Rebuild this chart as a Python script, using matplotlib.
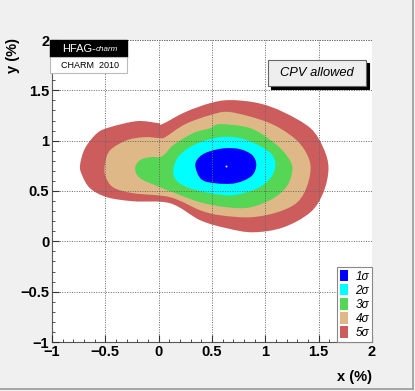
import matplotlib
matplotlib.use("Agg")
import matplotlib.pyplot as plt
import numpy as np
from matplotlib.path import Path
from matplotlib.patches import PathPatch, Patch, Rectangle
from matplotlib.ticker import MultipleLocator, FixedLocator

# contour outlines (x %, y %), outermost first
sigma5_x = [-0.737, -0.690, -0.577, -0.455, -0.202, -0.005, 0.033, 0.249, 0.484, 0.671, 0.934, 1.169, 1.423, 1.545,
            1.592, 1.545, 1.423, 1.169, 0.887, 0.643, 0.390, 0.108, -0.239, -0.484, -0.643, -0.718]
sigma5_y = [0.756, 0.925, 1.075, 1.134, 1.194, 1.174, 1.164, 1.284, 1.373, 1.403, 1.373, 1.284, 1.124, 0.925,
            0.726, 0.488, 0.289, 0.139, 0.090, 0.129, 0.209, 0.378, 0.398, 0.438, 0.527, 0.657]
sigma4_x = [-0.502, -0.455, -0.296, -0.127, 0.014, 0.061, 0.249, 0.484, 0.671, 1.019, 1.235, 1.357, 1.423, 1.394,
            1.300, 1.113, 0.859, 0.577, 0.390, 0.108, -0.239, -0.427, -0.502]
sigma4_y = [0.776, 0.905, 1.005, 1.035, 1.025, 1.035, 1.164, 1.254, 1.284, 1.184, 1.055, 0.925, 0.756, 0.557,
            0.388, 0.289, 0.239, 0.259, 0.308, 0.438, 0.478, 0.537, 0.657]
sigma3_x = [-0.221, -0.174, -0.080, 0.033, 0.136, 0.324, 0.484, 0.577, 0.859, 1.075, 1.197, 1.254, 1.207, 1.075,
            0.859, 0.643, 0.390, 0.155, 0.014, -0.174]
sigma3_y = [0.726, 0.806, 0.836, 0.846, 0.955, 1.075, 1.124, 1.164, 1.124, 0.985, 0.856, 0.726, 0.557, 0.428,
            0.338, 0.338, 0.388, 0.478, 0.537, 0.627]
sigma2_x = [0.136, 0.164, 0.249, 0.390, 0.577, 0.765, 0.953, 1.066, 1.094, 1.047, 0.925, 0.700, 0.484, 0.296, 0.183]
sigma2_y = [0.677, 0.806, 0.905, 0.985, 1.035, 1.025, 0.945, 0.856, 0.746, 0.627, 0.527, 0.458, 0.478, 0.527, 0.587]
sigma1_x = [0.343, 0.390, 0.484, 0.624, 0.765, 0.878, 0.915, 0.869, 0.718, 0.531, 0.399]
sigma1_y = [0.756, 0.846, 0.896, 0.925, 0.915, 0.856, 0.756, 0.647, 0.577, 0.577, 0.617]
best_fit = (0.634, 0.746)

contour_labels = ["1σ", "2σ", "3σ", "4σ", "5σ"]
contour_colors = ["#0000ff", "#00ffff", "#55d655", "#deb887", "#cd5c5c"]

tick_values = [-1, -0.5, 0, 0.5, 1, 1.5, 2]
tick_labels = ["\u22121", "\u22120.5", "0", "0.5", "1", "1.5", "2"]


def smooth_path(xs, ys):
    # closed Catmull-Rom curve through the read points, as cubic Beziers
    pts = np.column_stack([xs, ys])
    n = len(pts)
    verts = [pts[0]]
    codes = [Path.MOVETO]
    for i in range(n):
        p0, p1, p2, p3 = pts[i - 1], pts[i], pts[(i + 1) % n], pts[(i + 2) % n]
        verts += [p1 + (p2 - p0) / 6, p2 - (p3 - p1) / 6, p2]
        codes += [Path.CURVE4] * 3
    verts.append(pts[0])
    codes.append(Path.CLOSEPOLY)
    return Path(verts, codes)


plt.rcParams['font.family'] = ['Liberation Sans', 'DejaVu Sans']

fig = plt.figure(figsize=(4.15, 3.91), dpi=100, facecolor="#f0f0f0")
ax = fig.add_axes([52 / 415, 1 - 342 / 391, 320 / 415, 302 / 391])
ax.set_facecolor("white")

# canvas bevel
fig.add_artist(plt.Line2D([0.996, 0.996], [0.004, 1.0], transform=fig.transFigure, color="#9a9a9a", lw=1.2))
fig.add_artist(plt.Line2D([0.0, 0.996], [0.004, 0.004], transform=fig.transFigure, color="#9a9a9a", lw=1.2))

outlines = [(sigma5_x, sigma5_y), (sigma4_x, sigma4_y), (sigma3_x, sigma3_y),
            (sigma2_x, sigma2_y), (sigma1_x, sigma1_y)]
for (xs, ys), col in zip(outlines, contour_colors[::-1]):
    ax.add_patch(PathPatch(smooth_path(xs, ys), facecolor=col, edgecolor="none", zorder=1))
ax.plot(*best_fit, marker="s", ms=1.2, color="#ffff80", mec="none", zorder=3)

ax.set_xlim(-1, 2)
ax.set_ylim(-1, 2)
ax.xaxis.set_major_locator(FixedLocator(tick_values))
ax.yaxis.set_major_locator(FixedLocator(tick_values))
ax.set_xticklabels(tick_labels)
ax.set_yticklabels(tick_labels)
ax.xaxis.set_minor_locator(MultipleLocator(0.1))
ax.yaxis.set_minor_locator(MultipleLocator(0.1))
ax.tick_params(which="both", direction="in", top=False, right=False, color="#333333")
ax.tick_params(which="major", length=5, labelsize=10.5, pad=2)
ax.tick_params(which="minor", length=2.5)
for lab in ax.get_xticklabels() + ax.get_yticklabels():
    lab.set_fontweight("bold")
ax.grid(True, which="major", linestyle=(0, (1, 1.5)), color="#666666", lw=0.7, zorder=2)
ax.set_axisbelow(False)
for s in ["top", "right"]:
    ax.spines[s].set_visible(False)
ax.axhline(2, linestyle=(0, (1, 1.5)), color="#666666", lw=0.7, zorder=2)
ax.axvline(2, linestyle=(0, (1, 1.5)), color="#666666", lw=0.7, zorder=2)
for s in ["left", "bottom"]:
    ax.spines[s].set_color("#555555")
    ax.spines[s].set_linewidth(0.8)

fig.text(372 / 415, 1 - 377 / 391, "x (%)", ha="right", va="center", fontsize=10.5, fontweight="bold")
fig.text(13 / 415, 1 - 38 / 391, "y (%)", ha="center", va="top", rotation=90, fontsize=10.5, fontweight="bold")

# HFAG label
ax.add_patch(Rectangle((-0.005, 0.944), 0.240, 0.056, transform=ax.transAxes, facecolor="black",
                       edgecolor="black", zorder=5, clip_on=False))
ax.add_patch(Rectangle((-0.005, 0.891), 0.240, 0.053, transform=ax.transAxes, facecolor="white",
                       edgecolor="#bbbbbb", lw=0.8, zorder=5, clip_on=False))
hfag = ax.text(0.031, 0.970, "HFAG-", transform=ax.transAxes, color="white", fontsize=8, va="center", zorder=6)
ax.annotate("charm", xy=(1.0, 0.12), xycoords=hfag, color="white", fontsize=5.8, style="italic",
            va="bottom", ha="left", zorder=6)
ax.text(0.1175, 0.917, "CHARM  2010", transform=ax.transAxes, color="black", fontsize=6.5,
        ha="center", va="center", zorder=6)

# CPV allowed box with shadow
ax.add_patch(Rectangle((0.684, 0.838), 0.306, 0.086, transform=ax.transAxes, facecolor="black",
                       edgecolor="black", lw=0.8, zorder=5))
ax.add_patch(Rectangle((0.675, 0.848), 0.306, 0.086, transform=ax.transAxes, facecolor="#eeeeee",
                       edgecolor="#666666", lw=0.8, zorder=6))
ax.text(0.828, 0.891, "CPV allowed", transform=ax.transAxes, fontsize=9.3, style="italic",
        ha="center", va="center", zorder=7)

# legend
handles = [Patch(facecolor=c, edgecolor="none") for c in contour_colors]
leg = ax.legend(handles, contour_labels, loc="lower right", bbox_to_anchor=(1.0, 0.0), borderaxespad=0,
                fancybox=False, framealpha=1, edgecolor="#888888", handlelength=0.7, handleheight=1.1,
                handletextpad=0.6, labelspacing=0.12, borderpad=0.25,
                prop={"style": "italic", "size": 8.5})
leg.get_frame().set_linewidth(0.8)
leg.set_zorder(8)

fig.savefig("out.png", dpi=100, facecolor=fig.get_facecolor())
